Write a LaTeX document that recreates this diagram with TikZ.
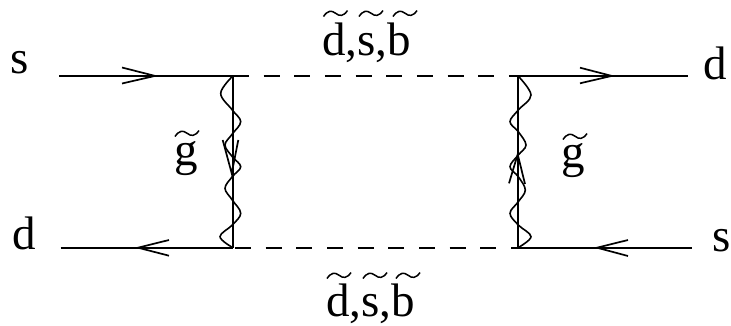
\documentclass[tikz,border=0pt]{standalone}
\usepackage{fontspec}
\setmainfont{Liberation Serif}
\tikzset{
  x=1pt,y=-1pt,
  line/.style={line width=1.9pt,black},
  scalar/.style={line width=1.9pt,black,dash pattern=on 16pt off 14.67pt},
  barb/.style={line width=1.7pt,black},
  wave/.style={line width=1.6pt,black},
  lab/.style={inner sep=0pt,anchor=base west,font=\fontsize{47}{47}\selectfont},
  tildemark/.pic={\draw[line width=1.5pt] (0,6.5) .. controls (4,0.5) and (8,0) .. (12,3.2) .. controls (16,6.5) and (20,6.5) .. (24,0.5);}
}
\begin{document}
\begin{tikzpicture}
\useasboundingbox (0,0) rectangle (731,325);
% vertices and free ends
\coordinate (vTL) at (232.9,75.9);
\coordinate (vBL) at (232.9,247.7);
\coordinate (vTR) at (518,75.9);
\coordinate (vBR) at (518,247.7);
\coordinate (inS) at (59,75.9);
\coordinate (inD) at (60.5,247.7);
\coordinate (outD) at (688,75.9);
\coordinate (outS) at (692,247.7);
% fermion lines
\draw[line] (inS) -- (vTL);
\draw[line] (inD) -- (vBL);
\draw[line] (vTR) -- (outD);
\draw[line] (vBR) -- (outS);
\draw[line] (vTL) -- (vBL);
\draw[line] (vTR) -- (vBR);
% squark lines
\draw[scalar] (vTL) -- (vTR);
\draw[scalar] (235,247.7) -- (vBR);
% gluino waves
\draw[wave] plot[smooth,tension=0.6] coordinates {(vTL) (220.7,93.3) (232.3,110) (240.7,121.7) (232.3,134) (225,145) (232.3,156.7) (240.7,166.7) (232.3,176.7) (225,188.3) (232.3,200) (240.7,213.3) (232.3,225) (220,236.7) (vBL)};
\draw[wave] plot[smooth,tension=0.6] coordinates {(vTR) (531,95) (518.3,110) (510,121.7) (518.3,131.7) (526,145) (518.3,155) (510,166.7) (518.3,176.7) (525.3,190) (518.3,201.7) (510,213.3) (518.3,225) (531,236.7) (vBR)};
% arrowheads
\coordinate (a1) at (155,75.9);
\draw[barb] (122,67.5) -- (a1) -- (122,83.5);
\coordinate (a2) at (138,247.7);
\draw[barb] (169,240) -- (a2) -- (169,255.7);
\coordinate (a3) at (611.7,75.9);
\draw[barb] (580,67.7) -- (a3) -- (580,83.3);
\coordinate (a4) at (597,247.7);
\draw[barb] (628,240) -- (a4) -- (628,256);
\coordinate (a5) at (231.7,173.3);
\draw[barb] (222.7,140) -- (a5) -- (238.3,140);
\coordinate (a6) at (517.7,154.3);
\draw[barb] (509,183.3) -- (a6) -- (525,184);
% external labels
\node[lab] (ls1) at (10.5,73) {s};
\node[lab] (ld1) at (12,249.5) {d};
\node[lab] (ld2) at (703,79) {d};
\node[lab] (ls2) at (712,251.7) {s};
% gluino labels
\node[lab] (lg1) at (174,165.5) {g};
\pic at (175,130) {tildemark};
\node[lab] (lg2) at (561,167.5) {g};
\pic at (563,133) {tildemark};
% squark labels
\node[lab] (lq1) at (322,55) {d,s,b};
\pic at (323.5,10) {tildemark};
\pic at (359,10) {tildemark};
\pic at (393,10) {tildemark};
\node[lab] (lq2) at (326,316) {d,s,b};
\pic at (327,272) {tildemark};
\pic at (363,272) {tildemark};
\pic at (396,272) {tildemark};
\end{tikzpicture}
\end{document}
